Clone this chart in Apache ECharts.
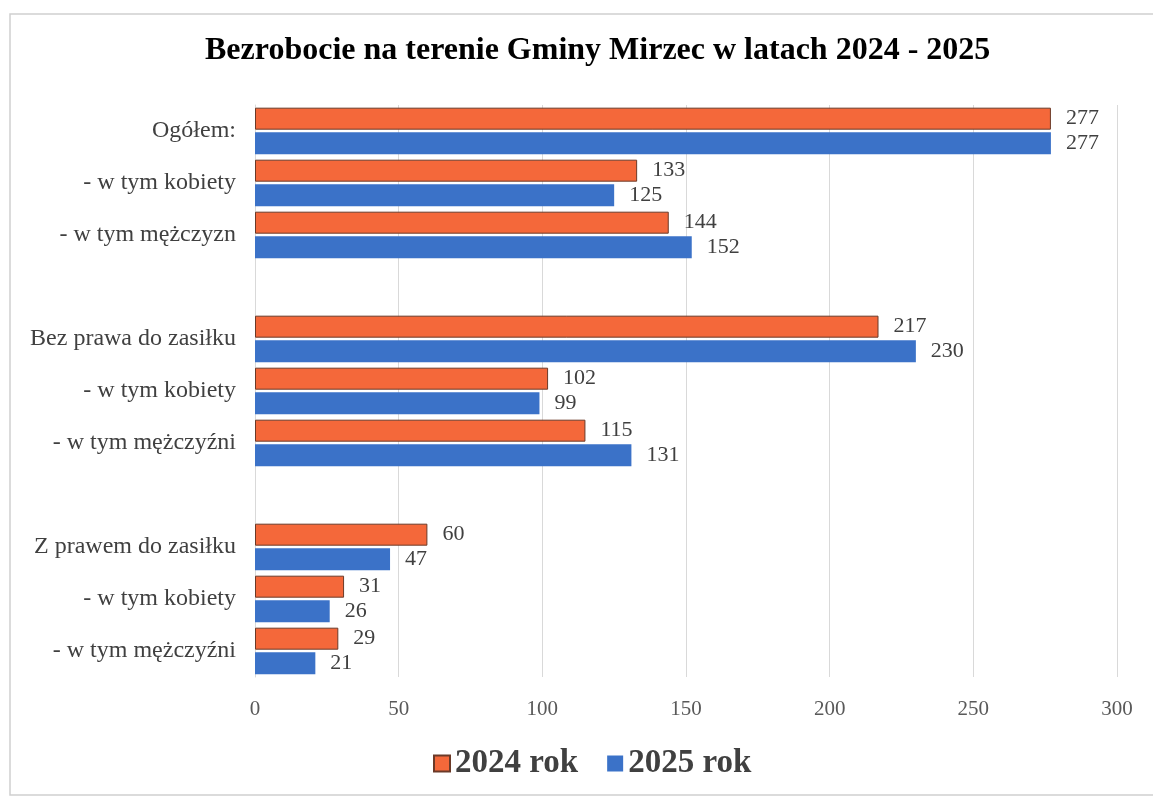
<!DOCTYPE html>
<html>
<head>
<meta charset="utf-8">
<script src="https://cdn.jsdelivr.net/npm/echarts@6/dist/echarts.min.js"></script>
<style>
  html, body { margin: 0; padding: 0; background: #fff; }
  #chart { width: 1153px; height: 799px; }
</style>
</head>
<body>
<div id="chart"></div>
<script>
// kategorie (puste pozycje = odstęp między grupami); spacje tylko dla unikalności
const categories = [
  'Ogółem:', '- w tym kobiety', '- w tym mężczyzn', '',
  'Bez prawa do zasiłku', '- w tym kobiety ', '- w tym mężczyźni', ' ',
  'Z prawem do zasiłku', '- w tym kobiety  ', '- w tym mężczyźni '
];
const values2024 = [277, 133, 144, null, 217, 102, 115, null, 60, 31, 29];
const values2025 = [277, 125, 152, null, 230, 99, 131, null, 47, 26, 21];
const xTicks = [0, 50, 100, 150, 200, 250, 300];

const serif = '"Liberation Serif", "DejaVu Serif", serif';

const chart = echarts.init(document.getElementById('chart'));

const labelStyle = {
  show: true,
  position: 'right',
  distance: 15,
  fontFamily: serif,
  fontSize: 22,
  color: '#404040'
};

chart.setOption({
  backgroundColor: '#fff',
  animation: false,
  title: {
    text: 'Bezrobocie na terenie Gminy Mirzec w latach 2024 - 2025',
    left: 200,
    top: 30,
    textStyle: { fontFamily: serif, fontSize: 32, fontWeight: 'bold', color: '#000' }
  },
  legend: {
    bottom: 14,
    left: 428,
    icon: 'rect',
    itemWidth: 16,
    itemHeight: 16,
    itemGap: 29,
    textStyle: { fontFamily: serif, fontSize: 33, fontWeight: 'bold', color: '#404040' },
    data: ['2024 rok', '2025 rok']
  },
  graphic: [{
    type: 'rect',
    shape: { x: 10, y: 14, width: 1160, height: 781 },
    style: { fill: 'none', stroke: '#d0d0d0', lineWidth: 1.5 },
    silent: true
  }],
  grid: { left: 255, right: 36, top: 105, bottom: 122 },
  xAxis: {
    type: 'value',
    min: xTicks[0],
    max: xTicks[xTicks.length - 1],
    interval: 50,
    axisLine: { show: false },
    axisTick: { show: false },
    axisLabel: { fontFamily: serif, fontSize: 21, color: '#595959', margin: 22 },
    splitLine: { lineStyle: { color: '#d9d9d9', width: 1 } }
  },
  yAxis: {
    type: 'category',
    inverse: true,
    data: categories,
    axisLine: { lineStyle: { color: '#d9d9d9' } },
    axisTick: { show: false },
    axisLabel: {
      fontFamily: serif, fontSize: 24, color: '#404040', margin: 19,
      formatter: v => v.trim()
    }
  },
  series: [
    {
      name: '2024 rok',
      type: 'bar',
      data: values2024,
      barWidth: 22,
      barGap: '12%',
      itemStyle: { color: '#f4683a', borderColor: '#6b3a28', borderWidth: 1 },
      label: labelStyle
    },
    {
      name: '2025 rok',
      type: 'bar',
      data: values2025,
      barWidth: 22,
      itemStyle: { color: '#3b72c8' },
      label: labelStyle
    }
  ]
});
</script>
</body>
</html>
